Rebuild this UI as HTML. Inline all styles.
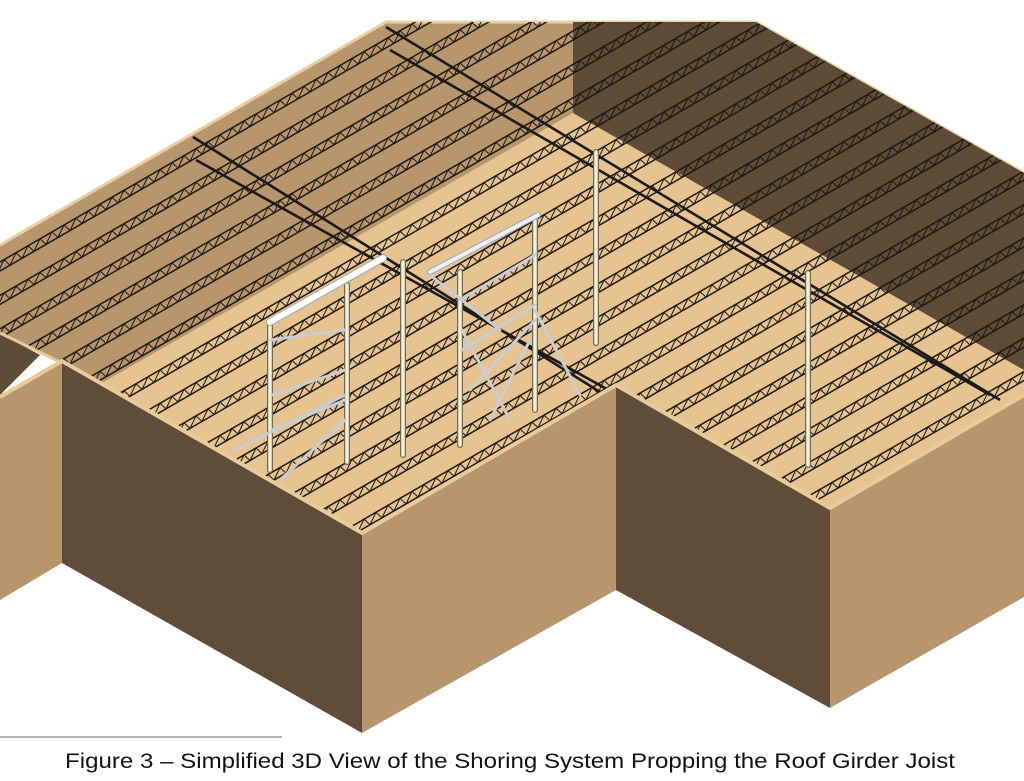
<!DOCTYPE html>
<html><head><meta charset="utf-8"><style>
html,body{margin:0;padding:0;background:#fff;width:1024px;height:781px;overflow:hidden}
svg{display:block}
</style></head><body>
<svg id="s" width="1024" height="781" viewBox="0 0 1024 781" xmlns="http://www.w3.org/2000/svg">
<defs>
<clipPath id="roof"><polygon points="0,245 386,22 756,22 1024,173 1024,397 830,510 616,387 362,535 62,363 0,333"/></clipPath>
</defs>
<polygon points="0,245 386,22 756,22 1024,173 1024,397 830,510 616,387 362,535 62,363 0,333" fill="#b8966c"/>
<polyline points="0,245 386,22 756,22 1024,173" fill="none" stroke="#e9cfa4" stroke-width="3"/>
<polygon points="573,113 1024,370 1024,397 830,510 616,387 362,535 100,384" fill="#e6c38f"/>
<polygon points="573,22 756,22 1024,173 1024,370 573,113" fill="#5f4c36"/>
<g id="joists" clip-path="url(#roof)" fill="none" stroke="#1c1812" stroke-width="1.5"></g>
<g stroke="#1a1a1a" stroke-width="2.6" fill="none">
<line x1="193" y1="137" x2="600" y2="392"/>
<line x1="196" y1="160" x2="612" y2="392"/>
<line x1="386" y1="27" x2="1000" y2="400"/>
<line x1="390" y1="50" x2="990" y2="395"/>
</g>
<g stroke="#6b6a55" stroke-width="6" stroke-linecap="round">
<line x1="596" y1="152" x2="596" y2="343"/>
<line x1="808" y1="273" x2="808" y2="465"/>
<line x1="403" y1="262" x2="403" y2="455"/>
<line x1="270" y1="322" x2="270" y2="470"/>
<line x1="347" y1="285" x2="347" y2="462"/>
<line x1="460" y1="272" x2="460" y2="445"/>
<line x1="535" y1="218" x2="535" y2="410"/>
</g>
<g stroke="#f4f0d8" stroke-width="3.5" stroke-linecap="round">
<line x1="596" y1="152" x2="596" y2="343"/>
<line x1="808" y1="273" x2="808" y2="465"/>
<line x1="403" y1="262" x2="403" y2="455"/>
<line x1="270" y1="322" x2="270" y2="470"/>
<line x1="347" y1="285" x2="347" y2="462"/>
<line x1="460" y1="272" x2="460" y2="445"/>
<line x1="535" y1="218" x2="535" y2="410"/>
</g>
<g stroke="#c9ced4" stroke-width="3" stroke-linecap="round">
<line x1="270" y1="340" x2="345" y2="330"/>
<line x1="272" y1="395" x2="345" y2="370"/>
<line x1="272" y1="430" x2="345" y2="400"/>
<line x1="235" y1="450" x2="345" y2="395"/>
<line x1="280" y1="480" x2="345" y2="420"/>
<line x1="430" y1="275" x2="500" y2="330"/>
<line x1="460" y1="300" x2="535" y2="255"/>
<line x1="462" y1="350" x2="535" y2="305"/>
<line x1="462" y1="330" x2="510" y2="420"/>
<line x1="470" y1="390" x2="535" y2="320"/>
<line x1="490" y1="420" x2="530" y2="340"/>
<line x1="535" y1="310" x2="580" y2="395"/>
</g>
<g stroke-linecap="round">
<line x1="270" y1="322" x2="383" y2="258" stroke="#9aa" stroke-width="8"/>
<line x1="270" y1="322" x2="383" y2="258" stroke="#fff" stroke-width="6"/>
<line x1="430" y1="272" x2="538" y2="215" stroke="#9aa" stroke-width="6"/>
<line x1="430" y1="272" x2="538" y2="215" stroke="#eef" stroke-width="4"/>
</g>
<polygon points="0,333 40,355 0,395" fill="#5f4c36"/>
<polygon points="0,397 62,363 62,563 0,600" fill="#b8966c"/>
<polygon points="62,363 362,535 362,733 62,563" fill="#5f4c39"/>
<polygon points="362,535 616,387 616,590 362,733" fill="#b8966c"/>
<polygon points="616,387 830,510 830,708 616,590" fill="#5f4c39"/>
<polygon points="830,510 1024,397 1024,597 830,708" fill="#b8966c"/>
<polyline points="0,397 62,361 362,533 616,385 830,508 1024,395" fill="none" stroke="#e8cb9c" stroke-width="4"/>
<polyline points="0,333 62,363" fill="none" stroke="#e8cb9c" stroke-width="3"/>
<line x1="0" y1="737" x2="282" y2="737" stroke="#999" stroke-width="1.5"/>
<text x="510" y="768" text-anchor="middle" font-family="Liberation Sans, Arial, sans-serif" font-size="21" fill="#111" textLength="890" lengthAdjust="spacingAndGlyphs">Figure 3 – Simplified 3D View of the Shoring System Propping the Roof Girder Joist</text>
</svg>
<script>
(function(){
var g=document.getElementById('joists'),ns='http://www.w3.org/2000/svg',m=0.578,h=9;
for(var c=262;c<=995;c+=33.4){
 var d1='M-20,'+(c+20*m)+'L1100,'+(c-1100*m);
 var d2='M-20,'+(c+h+20*m)+'L1100,'+(c+h-1100*m);
 var pts=[];
 for(var x=-20,i=0;x<1100;x+=6,i++){pts.push(x+','+((c+(i%2?h:0))-x*m).toFixed(1));}
 [d1,d2].forEach(function(d){var p=document.createElementNS(ns,'path');p.setAttribute('d',d);g.appendChild(p);});
 var pl=document.createElementNS(ns,'polyline');pl.setAttribute('points',pts.join(' '));pl.setAttribute('stroke-width','1');g.appendChild(pl);
}
})();
</script>
</body></html>
